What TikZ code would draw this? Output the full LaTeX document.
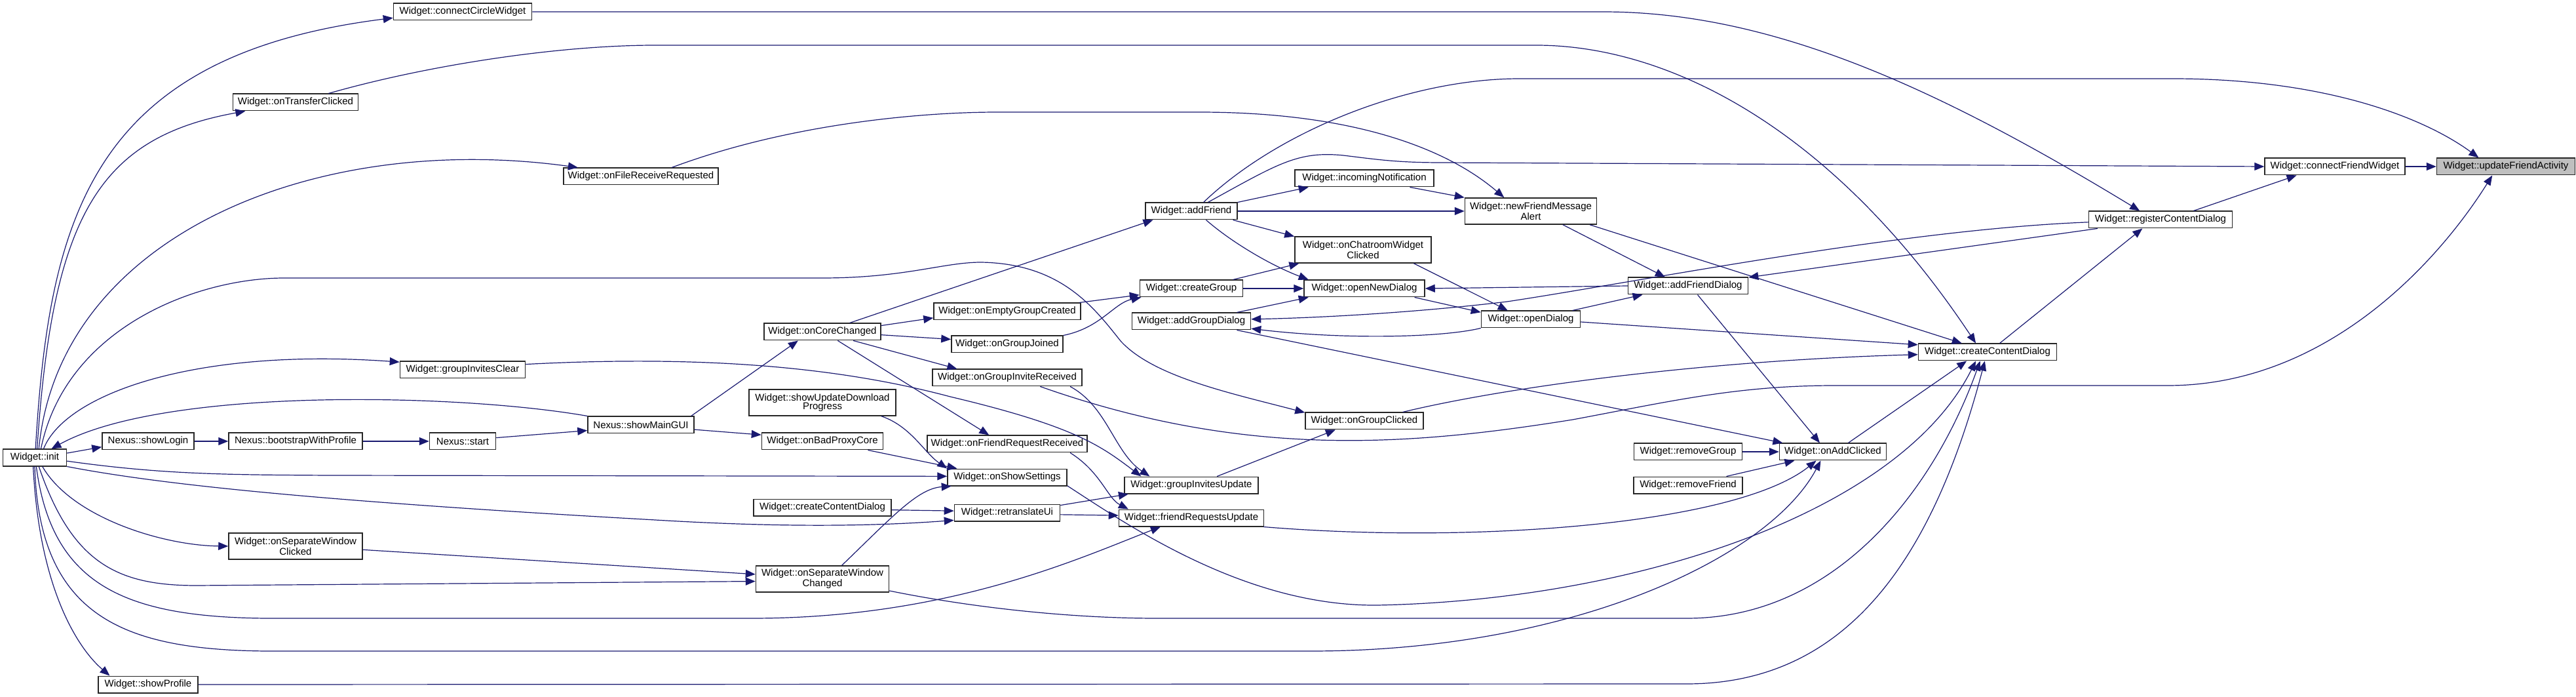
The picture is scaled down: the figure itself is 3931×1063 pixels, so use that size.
\documentclass[tikz,border=0pt]{standalone}
\usepackage{fontspec}
\setmainfont{Liberation Sans}
\usetikzlibrary{arrows.meta}
\definecolor{callblue}{RGB}{25, 25, 112}
\definecolor{rootgray}{RGB}{191, 191, 191}

\begin{document}
\begin{tikzpicture}[
    x=0.5pt, y=-0.5pt,
    fn/.style={draw=black!85, fill=white, line width=0.75pt, font=\fontsize{7.5}{6.8}\selectfont, inner xsep=2pt, inner ysep=2pt, minimum height=12.75pt, align=center},
    fntwo/.style={fn, minimum height=20pt},
    root/.style={fn, fill=rootgray},
    call/.style={-{Triangle[length=7.5pt, width=6pt]}, callblue, line width=0.6pt},
]
\useasboundingbox (0,0) rectangle (3931,1063);

% --- Entry point and the Nexus start-up chain ---
\node[fn, minimum width=48.5pt] (init) at (53,698) {Widget::init};
\node[fn, minimum width=70pt] (showLogin) at (226,673) {Nexus::showLogin};
\node[fn, minimum width=102pt] (bootstrap) at (451,673) {Nexus::bootstrapWithProfile};
\node[fn, minimum width=50.5pt] (nxStart) at (706,673) {Nexus::start};
\node[fn, minimum width=81pt] (showMainGUI) at (978,648) {Nexus::showMainGUI};

% --- Direct callees of init ---
\node[fn, minimum width=105.5pt] (connCircle) at (706,18) {Widget::connectCircleWidget};
\node[fn, minimum width=95.5pt] (onTransfer) at (451,156) {Widget::onTransferClicked};
\node[fn, minimum width=118pt] (fileRecv) at (978,269) {Widget::onFileReceiveRequested};
\node[fn, minimum width=95.5pt] (gic) at (706,564) {Widget::groupInvitesClear};
\node[fntwo, minimum width=102pt] (sepClicked) at (451,833) {Widget::onSeparateWindow\\Clicked};
\node[fn, minimum width=76pt] (showProfile) at (226,1044) {Widget::showProfile};

% --- Middle columns ---
\node[fn, minimum width=89pt] (onCoreChanged) at (1255,506) {Widget::onCoreChanged};
\node[fntwo, minimum width=112pt] (showUpdate) at (1255,614) {Widget::showUpdateDownload\\Progress};
\node[fn, minimum width=92.5pt] (onBadProxyCore) at (1255,673) {Widget::onBadProxyCore};
\node[fn, minimum width=105pt] (cdlgA) at (1255,774) {Widget::createContentDialog};
\node[fntwo, minimum width=101.5pt] (sepChanged) at (1255,883) {Widget::onSeparateWindow\\Changed};

\node[fn, minimum width=112pt] (oegc) at (1537,475) {Widget::onEmptyGroupCreated};
\node[fn, minimum width=85pt] (ogj) at (1537,525) {Widget::onGroupJoined};
\node[fn, minimum width=114pt] (ogir) at (1537,576) {Widget::onGroupInviteReceived};
\node[fn, minimum width=122pt] (ofrr) at (1537,677) {Widget::onFriendRequestReceived};
\node[fn, minimum width=91pt] (onShowSettings) at (1537,728) {Widget::onShowSettings};
\node[fn, minimum width=80.5pt] (retranslateUi) at (1537,782) {Widget::retranslateUi};

\node[fn, minimum width=70pt] (addFriend) at (1818,322) {Widget::addFriend};
\node[fn, minimum width=78.5pt] (createGroup) at (1818,440) {Widget::createGroup};
\node[fn, minimum width=90.5pt] (agd) at (1818,490) {Widget::addGroupDialog};
\node[fn, minimum width=102pt] (giu) at (1818,740) {Widget::groupInvitesUpdate};
\node[fn, minimum width=110.5pt] (fru) at (1818,790) {Widget::friendRequestsUpdate};

\node[fn, minimum width=106pt] (incomingN) at (2082,272) {Widget::incomingNotification};
\node[fntwo, minimum width=104pt] (ocwc) at (2080,381) {Widget::onChatroomWidget\\Clicked};
\node[fn, minimum width=92pt] (ond) at (2082,440) {Widget::openNewDialog};
\node[fn, minimum width=90pt] (ogc) at (2082,642) {Widget::onGroupClicked};

\node[fntwo, minimum width=100.5pt] (nfma) at (2336,322) {Widget::newFriendMessage\\Alert};
\node[fn, minimum width=75.5pt] (od) at (2336,487) {Widget::openDialog};
\node[fn, minimum width=91.5pt] (afd) at (2576,436) {Widget::addFriendDialog};
\node[fn, minimum width=82.5pt] (removeGroup) at (2576,689) {Widget::removeGroup};
\node[fn, minimum width=83pt] (removeFriend) at (2576,740) {Widget::removeFriend};
\node[fn, minimum width=81.5pt] (onAddClicked) at (2797,689) {Widget::onAddClicked};

% --- Right end of the graph ---
\node[fn, minimum width=105.5pt] (cdlgB) at (3033,537) {Widget::createContentDialog};
\node[fn, minimum width=109.5pt] (rcd) at (3297,335) {Widget::registerContentDialog};
\node[fn, minimum width=107pt] (cfw) at (3563,254) {Widget::connectFriendWidget};
\node[root, minimum width=105.5pt] (ufa) at (3824,254) {Widget::updateFriendActivity};

% --- Start-up chain ---
\draw[call] (init.8) -- (showLogin.187);
\draw[call] (showLogin) -- (bootstrap);
\draw[call] (bootstrap) -- (nxStart);
\draw[call] (nxStart.6) -- (showMainGUI.186);
\draw[call] (showMainGUI.north west) .. controls (700,600) and (250,590) .. (init.28);
\draw[call] (showMainGUI.10) -- (onCoreChanged.200);
\draw[call] (showMainGUI.-5) -- (onBadProxyCore.174);

% --- init fans out upwards ---
\draw[call] (init.85) .. controls (75,330) and (140,85) .. (connCircle.185);
\draw[call] (init.75) .. controls (80,330) and (150,210) .. (onTransfer.190);
\draw[call] (init.65) .. controls (90,360) and (480,200) .. (fileRecv.172);
\draw[call] (init.55) .. controls (100,500) and (300,424) .. (434,424) -- (1255,424)
    .. controls (1380,424) and (1440,400) .. (1497,400)
    .. controls (1620,402) and (1670,470) .. (1710,520)
    .. controls (1760,575) and (1880,600) .. (ogc.172);
\draw[call] (init.45) .. controls (100,600) and (300,530) .. (gic.173);

% --- init fans out to the right and down ---
\draw[call] (init.-6) .. controls (250,724) and (350,724) .. (500,725) -- (onShowSettings.179);
\draw[call] (init.south east) .. controls (250,740) and (500,765) .. (1000,793)
    .. controls (1150,802) and (1300,805) .. (retranslateUi.188);
\draw[call] (init.-49) .. controls (110,790) and (250,832) .. (sepClicked.west);
\draw[call] (init.-65) .. controls (110,860) and (180,893) .. (300,893) -- (sepChanged.182);
\draw[call] (init.-80) .. controls (80,900) and (200,945) .. (434,943) -- (1147,943)
    .. controls (1450,943) and (1650,850) .. (fru.196);
\draw[call] (init.-90) .. controls (60,950) and (200,995) .. (434,993) -- (2000,993)
    .. controls (2400,993) and (2700,850) .. (onAddClicked.216);
\draw[call] (init.-100) .. controls (60,900) and (120,990) .. (showProfile.167);

% --- second level ---
\draw[call] (sepClicked.-3) -- (sepChanged.176);
\draw[call] (showProfile.east) -- (2574,1043) .. controls (2820,1043) and (2950,850) .. (cdlgB.253);
\draw[call] (connCircle.east) -- (2446,18) .. controls (2700,18) and (2950,130) .. (rcd.157);
\draw[call] (onTransfer.15) .. controls (650,100) and (850,69) .. (1000,69) -- (2344,69)
    .. controls (2550,69) and (2800,200) .. (cdlgB.143);
\draw[call] (fileRecv.16) .. controls (1200,190) and (1400,171) .. (1523,171) -- (1829,171)
    .. controls (2050,171) and (2200,220) .. (nfma.153);
\draw[call] (gic.5) .. controls (1100,540) and (1300,565) .. (1450,605)
    .. controls (1640,650) and (1680,680) .. (giu.170);

% --- onCoreChanged and its callees ---
\draw[call] (onCoreChanged.18) -- (addFriend.193);
\draw[call] (onCoreChanged.6) -- (oegc.185);
\draw[call] (onCoreChanged.-3) -- (ogj.175);
\draw[call] (onCoreChanged.-16) -- (ogir.170);
\draw[call] (onCoreChanged.-30) -- (ofrr.154);
\draw[call] (oegc.7) -- (createGroup.187);
\draw[call] (ogj.north east) .. controls (1680,500) and (1700,462) .. (createGroup.190);
\draw[call] (ogir.-8) .. controls (1690,620) and (1700,690) .. (giu.168);
\draw[call] (ogir.-15) .. controls (1900,700) and (2150,680) .. (2400,640)
    .. controls (2550,612) and (2650,588) .. (2800,588) -- (3308,588)
    .. controls (3550,588) and (3720,400) .. (ufa.213);
\draw[call] (ofrr.-8) .. controls (1680,720) and (1690,760) .. (fru.172);

% --- settings / translation ---
\draw[call] (showUpdate.-13) .. controls (1390,650) and (1410,690) .. (onShowSettings.north west);
\draw[call] (onBadProxyCore.-11) -- (onShowSettings.170);
\draw[call] (sepChanged.35) .. controls (1360,790) and (1400,745) .. (onShowSettings.189);
\draw[call] (onShowSettings.-8) .. controls (1720,800) and (1900,925) .. (2102,923)
    .. controls (2500,915) and (2900,780) .. (cdlgB.217);
\draw[call] (sepChanged.-10) .. controls (1500,930) and (1650,943) .. (1765,943) -- (2574,943)
    .. controls (2800,943) and (2950,750) .. (cdlgB.230);
\draw[call] (cdlgA.-2) -- (retranslateUi.178);
\draw[call] (retranslateUi.8) -- (giu.188);
\draw[call] (retranslateUi.-2) -- (fru.178);
\draw[call] (giu.19) -- (ogc.197);
\draw[call] (fru.-7) .. controls (2250,830) and (2650,800) .. (onAddClicked.208);

% --- addFriend and the dialogs ---
\draw[call] (addFriend.36) .. controls (1950,200) and (2150,120) .. (2319,120) -- (3315,120)
    .. controls (3550,120) and (3700,180) .. (ufa.162);
\draw[call] (addFriend.28) .. controls (1950,250) and (1980,230) .. (2050,237)
    .. controls (2100,243) and (2130,248) .. (2200,248) -- (cfw.west);
\draw[call] (addFriend.east) -- (nfma.west);
\draw[call] (addFriend.north east) -- (incomingN.189);
\draw[call] (addFriend.-12) -- (ocwc.169);
\draw[call] (addFriend.-31) .. controls (1880,370) and (1940,405) .. (ond.171);
\draw[call] (incomingN.-11) -- (nfma.north west);
\draw[call] (nfma.-23) -- (afd.159);
\draw[call] (nfma.-13) -- (cdlgB.161);
\draw[call] (createGroup) -- (ond);
\draw[call] (createGroup.12) -- (ocwc.192);
\draw[call] (agd.11) -- (ond.189);
\draw[call] (rcd.182) .. controls (2900,350) and (2500,430) .. (2300,460)
    .. controls (2150,478) and (2000,485) .. (agd.2);
\draw[call] (od.190) .. controls (2200,515) and (2050,518) .. (agd.-7);
\draw[call] (agd.-11) -- (onAddClicked.170);
\draw[call] (ocwc.-15) -- (od.159);
\draw[call] (ond.-10) -- (od.172);
\draw[call] (afd.west) -- (ond.east);
\draw[call] (od.12) -- (afd.191);
\draw[call] (od.-3) -- (cdlgB.174);
\draw[call] (afd.-43) -- (onAddClicked.146);
\draw[call] (onAddClicked.30) -- (cdlgB.203);
\draw[call] (removeGroup) -- (onAddClicked);
\draw[call] (removeFriend.13) -- (onAddClicked.193);
\draw[call] (ogc.13) .. controls (2300,590) and (2600,550) .. (cdlgB.182);

% --- towards the root ---
\draw[call] (cdlgB.36) -- (rcd.206);
\draw[call] (rcd.15) -- (cfw.193);
\draw[call] (rcd.188) -- (afd.8);
\draw[call] (cfw) -- (ufa);

\end{tikzpicture}
\end{document}
